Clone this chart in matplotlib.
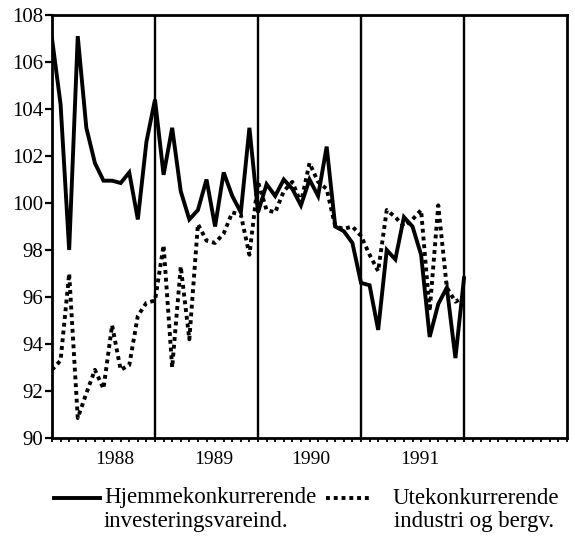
import numpy as np
import matplotlib
matplotlib.use("Agg")
import matplotlib.pyplot as plt
from matplotlib.lines import Line2D

# Monthly index values (month 0 = first observation)
hjemme = [107.0, 104.2, 98.0, 107.1, 103.2, 101.7, 100.95, 100.95, 100.85, 101.3,
          99.3, 102.6, 104.4, 101.2, 103.2, 100.5, 99.3, 99.7, 101.0, 99.0,
          101.3, 100.3, 99.6, 103.2, 99.6, 100.8, 100.3, 101.0, 100.6, 99.9,
          101.0, 100.3, 102.4, 99.0, 98.8, 98.3, 96.6, 96.5, 94.6, 98.0,
          97.6, 99.4, 99.0, 97.8, 94.3, 95.7, 96.4, 93.4, 96.8]
ute = [92.9, 93.3, 97.0, 90.85, 91.9, 92.9, 92.1, 94.8, 92.9, 93.1,
       95.2, 95.75, 95.85, 98.2, 93.0, 97.3, 94.2, 99.1, 98.4, 98.3,
       98.7, 99.6, 99.5, 97.8, 100.9, 99.7, 99.6, 100.5, 100.9, 100.0,
       101.7, 100.9, 100.6, 99.0, 98.9, 99.0, 98.6, 97.8, 97.1, 99.7,
       99.4, 99.0, 99.3, 99.7, 95.4, 99.9, 96.4, 95.8, 96.0]
year_labels = ["1988", "1989", "1990", "1991"]
year_pos = [7.3, 18.8, 30.1, 42.9]
period_lines = [12, 24, 36, 48]
label1 = ["Hjemmekonkurrerende", "investeringsvareind."]
label2 = ["Utekonkurrerende", "industri og bergv."]

plt.rcParams['font.family'] = ['Liberation Serif', 'DejaVu Serif']

W, H = 575, 538
fig = plt.figure(figsize=(W / 100, H / 100), dpi=100)
ax = fig.add_axes([52 / W, 1 - 438 / H, (567 - 52) / W, (438 - 15) / H])

months = np.arange(len(hjemme))
ax.plot(months, hjemme, color='black', lw=2.8, solid_joinstyle='miter')
ax.plot(months, ute, color='black', lw=2.8, linestyle=(0, (1, 1.0)), dash_capstyle='butt')

for v in period_lines:
    ax.axvline(v, color='black', lw=1.7)

ax.set_xlim(0, 60)
ax.set_ylim(90, 108)
ax.set_yticks(np.arange(90, 109, 2))
ax.set_xticks(year_pos)
ax.set_xticklabels(year_labels)
ax.set_xticks(np.arange(0, 61, 1), minor=True)
ax.tick_params(axis='x', which='major', length=0, pad=9, labelsize=14)
ax.tick_params(axis='x', which='minor', length=3, width=1.3, direction='out')
ax.tick_params(axis='y', which='major', length=5, width=1.6, direction='out', pad=1.5, labelsize=15)
for s in ax.spines.values():
    s.set_linewidth(2.0)

# Legend drawn in figure coordinates
y1 = 1 - 498 / H
y2 = 1 - 522 / H
fig.add_artist(Line2D([54 / W, 100 / W], [y1, y1], transform=fig.transFigure,
                      color='black', lw=2.8))
fig.add_artist(Line2D([326 / W, 371 / W], [y1, y1], transform=fig.transFigure,
                      color='black', lw=2.8, linestyle=(0, (1, 1.0))))
fig.text(104 / W, y1, label1[0], fontsize=16.5, va='center', ha='left')
fig.text(104 / W, y2, label1[1], fontsize=16.5, va='center', ha='left')
fig.text(393 / W, y1, label2[0], fontsize=16.5, va='center', ha='left')
fig.text(394 / W, y2, label2[1], fontsize=16.5, va='center', ha='left')

fig.savefig("out.png", dpi=100)
